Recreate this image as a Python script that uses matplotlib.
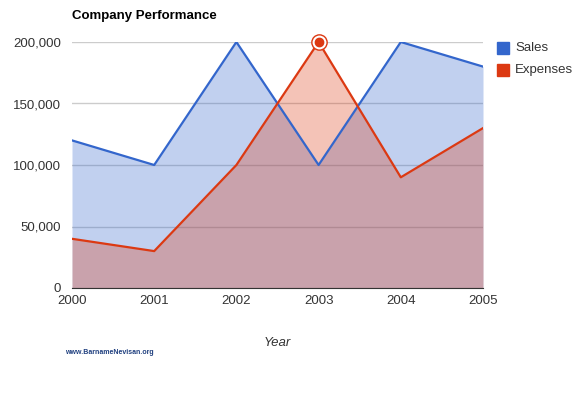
import matplotlib.pyplot as plt
import numpy as np
from matplotlib.ticker import FuncFormatter

plt.rcParams["font.family"] = ["Liberation Sans", "DejaVu Sans"]

# data
years = ["2000", "2001", "2002", "2003", "2004", "2005"]
sales = [120000, 100000, 200000, 100000, 200000, 180000]
expenses = [40000, 30000, 100000, 200000, 90000, 130000]
yticks = [0, 50000, 100000, 150000, 200000]

blue = "#3366CC"
red = "#DC3912"

fig = plt.figure(figsize=(5.85, 3.95), dpi=100)
ax = fig.add_axes([72 / 585, 1 - 288 / 395, 411 / 585, 246 / 395])

x = np.arange(len(years))
ax.fill_between(x, 0, sales, color=blue, alpha=0.3, lw=0)
ax.fill_between(x, 0, expenses, color=red, alpha=0.3, lw=0)
ax.plot(x, sales, color=blue, lw=1.6)
ax.plot(x, expenses, color=red, lw=1.6)

# highlighted point
ax.plot(x[3], expenses[3], "o", ms=11, mfc="white", mec=red, mew=1, zorder=5, clip_on=False)
ax.plot(x[3], expenses[3], "o", ms=6, mfc=red, mec=red, zorder=6, clip_on=False)

ax.set_xlim(0, len(years) - 1)
ax.set_ylim(0, 200000)
ax.set_xticks(x)
ax.set_xticklabels(years)
ax.set_yticks(yticks)
ax.yaxis.set_major_formatter(FuncFormatter(lambda v, p: f"{int(v):,}"))
ax.grid(axis="y", color="#cccccc", lw=1)
ax.set_axisbelow(True)
for s in ["top", "right", "left"]:
    ax.spines[s].set_visible(False)
ax.spines["bottom"].set_color("#333333")
ax.tick_params(length=0, labelsize=9.5, colors="#333333")
ax.tick_params(axis="y", pad=8)
ax.tick_params(axis="x", pad=5)
ax.set_xlabel("Year", fontsize=9.5, style="italic", color="#333333", labelpad=22)

fig.text(72 / 585, 1 - 16 / 395, "Company Performance", fontsize=9.5,
         weight="bold", va="center", ha="left")

# legend
for i, (name, c) in enumerate([("Sales", blue), ("Expenses", red)]):
    yy = 1 - (48 + 22 * i) / 395
    fig.patches.append(plt.Rectangle((497 / 585, yy - 6 / 395), 12 / 585, 12 / 395,
                                     transform=fig.transFigure, color=c))
    fig.text(515 / 585, yy, name, fontsize=9.5, va="center", ha="left", color="#333333")

# watermark
fig.text(65 / 585, 1 - 352 / 395, "www.BarnameNevisan.org", fontsize=5,
         color="#1f3f7f", weight="bold", va="center")

fig.savefig("out.png", dpi=100)
